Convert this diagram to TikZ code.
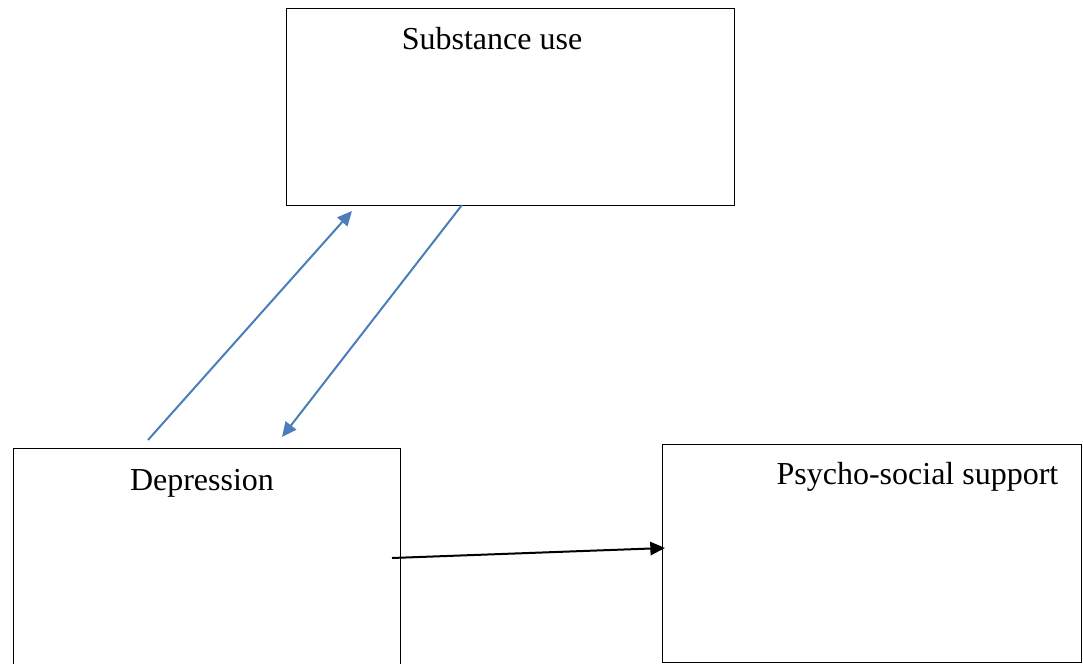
\documentclass[tikz,border=0pt]{standalone}
\usepackage{fontspec}
\setmainfont{Liberation Serif}
\usetikzlibrary{calc}
\usetikzlibrary{arrows.meta}
\definecolor{linkblue}{RGB}{74,126,187}

\begin{document}
\begin{tikzpicture} [x=.75pt, y=-.75pt,
  box/.style={draw, line width=.75pt, inner sep=0, outer sep=0},
  lbl/.style={anchor=base, font=\fontsize{24}{28}\selectfont},
  link/.style={line width=1.5pt, -{Triangle[length=11pt, width=10pt]}}]
\useasboundingbox (0,0) rectangle (1083,664);
% boxes
\node[box, minimum width=336pt, minimum height=147.75pt] (sub) at (510,106.5) {};
\node[box, minimum width=290.25pt, minimum height=174pt] (dep) at (206.5,564) {};
\node[box, minimum width=314.25pt, minimum height=163.5pt] (psy) at (871.5,553) {};
\node[lbl] (sublbl) at (492,49) {Substance use};
\node[lbl] (deplbl) at (202,490) {Depression};
\node[lbl] (psylbl) at (917.5,484) {Psycho-social support};
% arrows
\draw[link, linkblue] ($(dep.north)+(-58.5,-8)$) -- ($(sub.south)+(-158,6)$);
\draw[link, linkblue] ($(sub.south)+(-48,0)$) -- ($(dep.north)+(75.5,-11)$);
\draw[link, black] ($(dep.east)+(-8,-6)$) -- ($(psy.west)+(3,-5)$);
\end{tikzpicture}
\end{document}
